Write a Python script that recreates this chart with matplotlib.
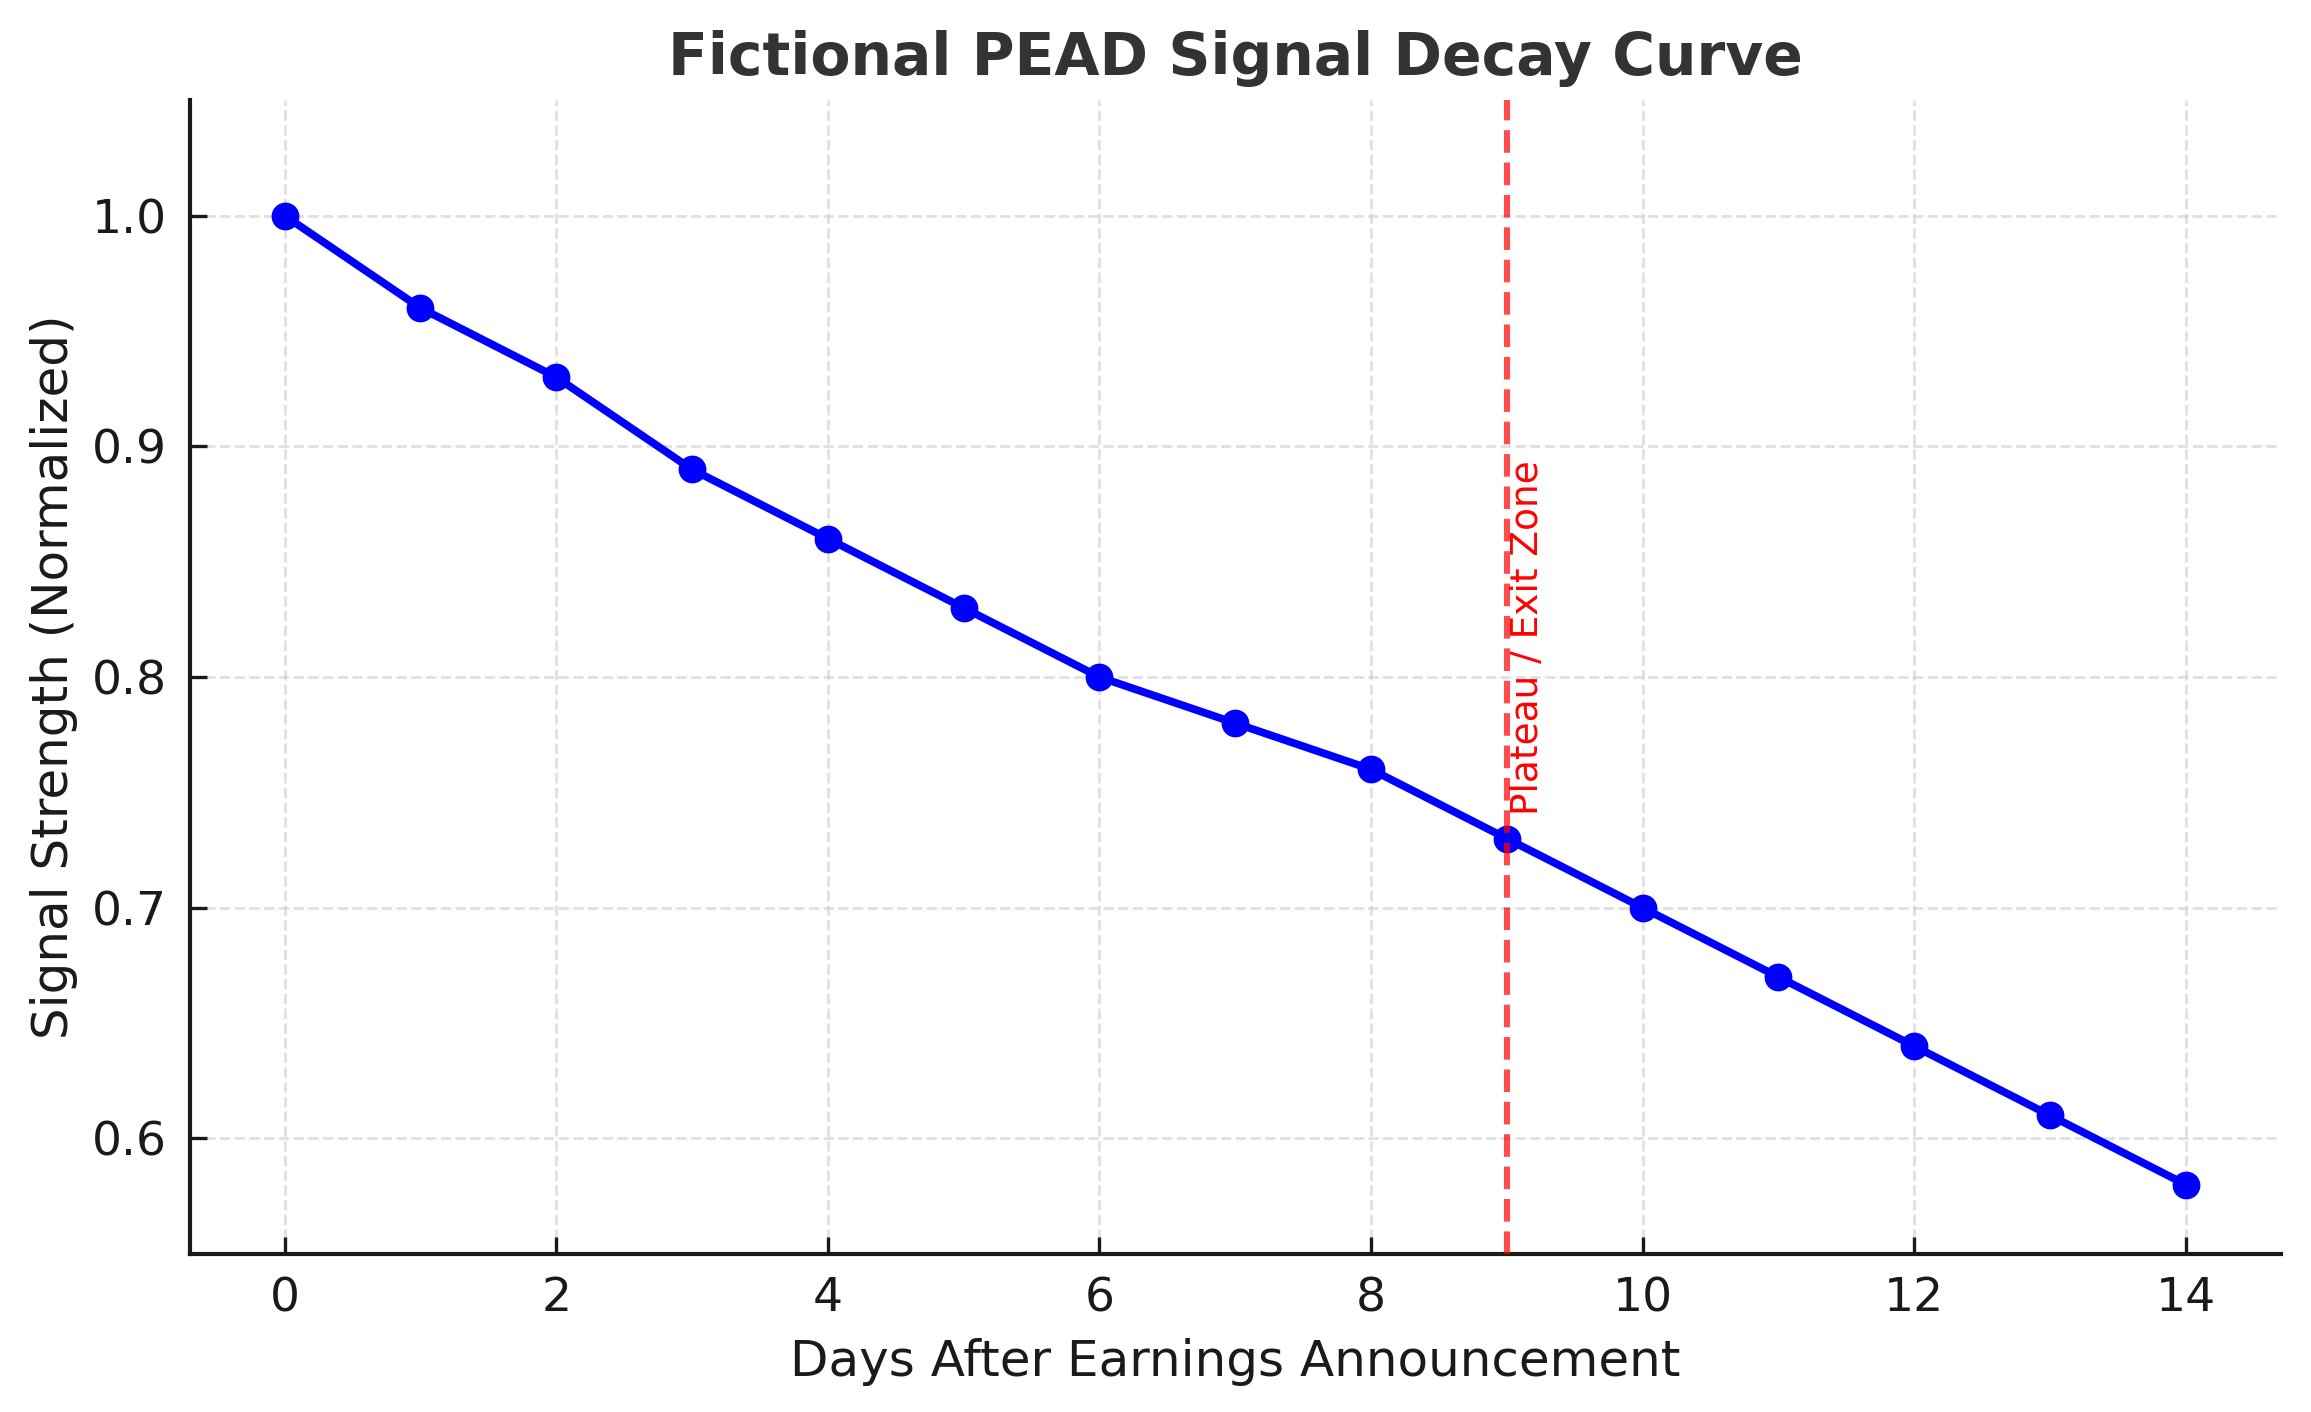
import matplotlib
matplotlib.use("Agg")
import matplotlib.pyplot as plt

# Values.
days = [0, 1, 2, 3, 4, 5, 6, 7, 8, 9, 10, 11, 12, 13, 14]
signal = [1.00, 0.96, 0.93, 0.89, 0.86, 0.83, 0.80, 0.78, 0.76, 0.73,
          0.70, 0.67, 0.64, 0.61, 0.58]
exit_day = 9
exit_label = "Plateau / Exit Zone"

fig, ax = plt.subplots(figsize=(11.555, 7.06), dpi=200)
fig.subplots_adjust(left=0.082, right=0.987, top=0.929, bottom=0.112)

ax.plot(days, signal, color="blue", marker="o", markersize=9, linewidth=2.8, zorder=3)

# Exit marker: dashed red line plus a rotated label just right of it.
ax.axvline(exit_day, color="red", linestyle="--", linewidth=2.2, alpha=0.7, zorder=4)
ax.text(exit_day + 0.02, 0.74, exit_label, rotation=90, color="red",
        fontsize=13.5, va="bottom", ha="left")

ax.set_ylim(0.55, 1.05)
ax.set_xticks(range(0, 15, 2))
ax.set_yticks([0.6, 0.7, 0.8, 0.9, 1.0])

ax.set_title("Fictional PEAD Signal Decay Curve", fontsize=21, fontweight="bold",
             color="#333333", pad=9)
ax.set_xlabel("Days After Earnings Announcement", fontsize=18, color="#1a1a1a",
              labelpad=6)
ax.set_ylabel("Signal Strength (Normalized)", fontsize=18, color="#1a1a1a",
              labelpad=5)

ax.tick_params(direction="in", length=6, width=1.2, labelsize=17,
               colors="#1a1a1a", pad=8)
for side in ("top", "right"):
    ax.spines[side].set_visible(False)
for side in ("left", "bottom"):
    ax.spines[side].set_linewidth(1.5)
    ax.spines[side].set_color("#1a1a1a")

ax.grid(True, linestyle="--", color="#cccccc", alpha=0.6, linewidth=1)
ax.set_axisbelow(True)

fig.savefig("out.png", dpi=200)
